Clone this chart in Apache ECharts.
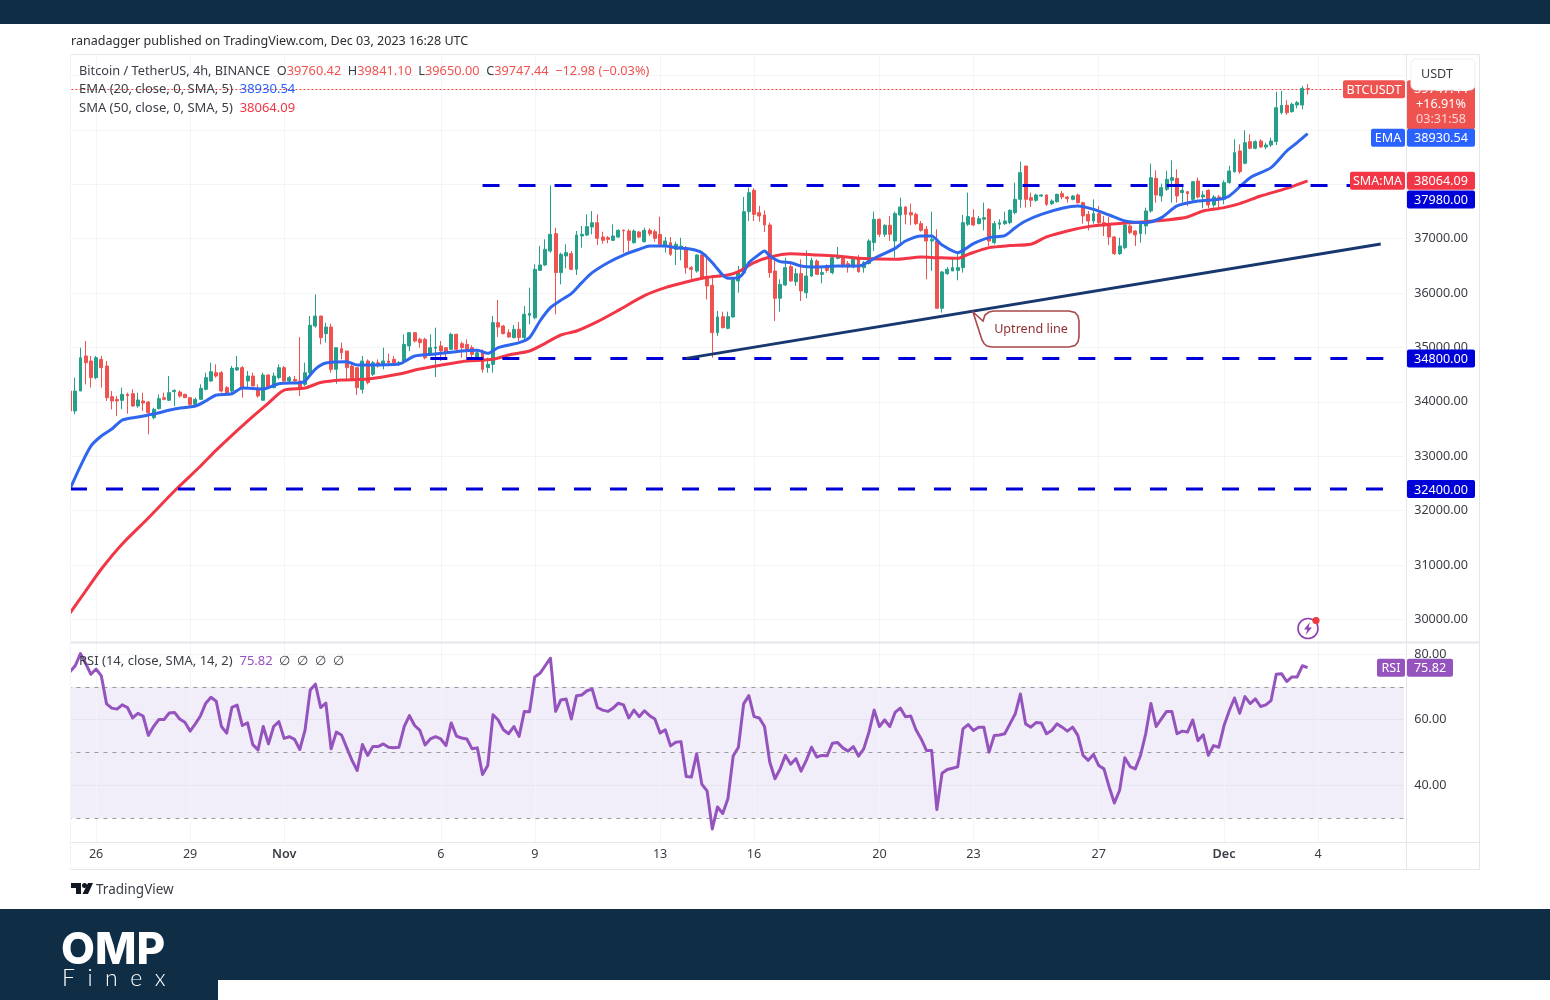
<!DOCTYPE html>
<html>
<head>
    <meta charset="utf-8">
    <title>BTCUSDT 4h</title>
    <script src="https://cdn.jsdelivr.net/npm/echarts@6/dist/echarts.min.js"></script>
    <style>
        html, body { margin: 0; padding: 0; background: #fff; overflow: hidden; }
        #main { width: 1550px; height: 1000px; }
    </style>
</head>
<body>
    <div id="main"></div>
    <script>
        // 4h candles, bar 0 is the one cut by the left edge
        var opens = [
            34200,33833,34200,34844,34752,34446,34782,34660,34096,34047,
            34028,34139,34151,33925,34017,33998,33710,33875,34078,34030,
            34190,34182,34139,34078,33955,34047,34231,34384,34537,34537,
            34262,34200,34587,34629,34384,34476,34250,34030,34495,34262,
            34446,34629,34384,34415,34384,34323,34537,35395,35579,35254,
            35377,34599,34979,34936,34660,34629,34231,34752,34507,34721,
            34690,34752,34782,34690,34752,35028,35273,35150,35150,34874,
            34986,35028,34997,34967,35242,35070,35058,34997,34813,34936,
            34630,34690,35457,35395,35273,35181,35334,35181,35592,35548,
            36419,36517,36774,37093,36376,36682,36725,36437,37050,37068,
            37215,37295,37031,37019,36970,37031,37154,37142,36927,37123,
            36946,37154,37129,37080,36884,36927,36805,36823,36835,36468,
            36406,36700,36284,36143,35273,35567,35352,35561,36223,36376,
            37497,37889,37479,37436,37252,36406,35904,36149,36486,36210,
            36357,36008,36314,36590,36345,36468,36376,36639,36639,36541,
            36480,36639,36468,36542,36928,37357,37081,37246,36958,37436,
            37583,37479,37448,37277,37173,36958,36958,35721,36358,36407,
            36419,36468,37265,37387,37277,37357,37540,36928,37265,37277,
            37296,37479,37724,38337,37755,37706,37785,37804,37644,37681,
            37828,37767,37724,37804,37663,37448,37326,37461,37295,37277,
            37032,36725,36836,37234,37142,37093,37234,37510,38110,37785,
            37908,38073,38110,37847,37865,37724,38061,37767,37889,37620,
            37767,37724,38031,38233,38613,38386,38784,38662,38796,38686,
            38723,38784,39317,39452,39336,39458,39458,39760.42
        ];
        var closes = [
            33833,34200,34813,34721,34446,34813,34629,34078,34017,34017,
            34139,34115,33925,34035,33980,33802,33863,34060,34047,34170,
            34212,34109,34078,33955,34047,34250,34446,34556,34476,34200,
            34170,34617,34629,34262,34476,34292,34109,34495,34262,34476,
            34629,34384,34446,34384,34262,34537,35408,35579,35181,35377,
            34599,34997,34905,34629,34415,34262,34752,34354,34721,34690,
            34752,34721,34721,34721,35058,35273,35119,35089,34813,34997,
            35009,34936,34905,35242,34967,34997,34966,34875,34905,34599,
            34690,35457,35377,35254,35193,35334,35181,35610,35628,36437,
            36517,36805,37080,36376,36713,36743,36437,37068,37080,37221,
            37295,37007,36970,36988,37050,37154,37142,36970,37142,37031,
            37154,37092,37007,36896,36958,36713,36897,36866,36468,36437,
            36700,36284,36131,35273,35561,35365,35567,36253,36376,37497,
            37846,37448,37417,37252,36376,35904,36161,36468,36223,36357,
            36039,36314,36603,36345,36376,36418,36651,36663,36498,36480,
            36621,36394,36560,36958,37357,37081,37246,37081,37461,37583,
            37448,37436,37277,37154,36958,36989,35721,36389,36438,36468,
            36468,37295,37406,37252,37369,37387,36958,37277,37295,37326,
            37522,37724,38214,37724,37706,37804,37804,37632,37693,37816,
            37767,37736,37785,37663,37418,37326,37461,37295,37234,37032,
            36725,36866,37252,37111,37069,37265,37510,38122,37804,37939,
            38092,38122,37785,37890,37828,38049,37767,37804,37620,37767,
            37736,38031,38245,38582,38233,38766,38662,38784,38686,38723,
            38796,39409,39452,39317,39470,39501,39764,39747.44
        ];
        var lows = [
            33680,33772,34200,34323,34262,34415,34262,34017,33863,33741,
            33863,33784,33907,33894,33833,33404,33680,33863,34030,34017,
            33925,34078,34078,33925,33925,34035,34212,34372,34446,34170,
            34139,34170,34568,34078,34262,34292,34078,34030,34250,34250,
            34415,34372,34354,34354,34108,34292,34507,35365,35058,35089,
            34537,34335,34783,34384,34384,34127,34152,34323,34476,34629,
            34599,34660,34690,34660,34721,34936,35089,34997,34782,34844,
            34458,34752,34783,34967,34936,34813,34825,34825,34783,34538,
            34538,34538,35193,35242,35181,35169,35120,35150,35426,35518,
            36406,36498,36743,35610,36161,36455,36418,36333,36835,37050,
            37080,36884,36909,36915,36958,37019,36743,36743,36909,37007,
            36927,37050,36945,36866,36743,36682,36516,36602,36357,36253,
            36376,36253,35885,34813,35212,35352,35334,35548,36008,36333,
            37325,37325,37313,37123,36284,35487,35659,36131,36210,36131,
            35855,35904,36296,36333,36180,36376,36345,36621,36468,36376,
            36455,36376,36376,36529,36774,37032,37032,36958,36652,36897,
            37265,37252,37252,37130,36254,36407,35721,35641,36333,36407,
            36235,36376,37234,37234,37265,37154,36866,36897,37173,37252,
            37265,37448,37571,37571,37583,37681,37767,37602,37620,37663,
            37724,37663,37706,37644,37277,37154,37277,37265,37050,36885,
            36701,36701,36805,37081,36866,36928,37081,37479,37663,37681,
            37877,37663,37663,37663,37602,37693,37742,37559,37559,37571,
            37571,37632,38012,38214,38196,38368,38643,38643,38674,38643,
            38686,38723,39286,39274,39317,39397,39378,39650
        ];
        var highs = [
            34200,34446,34997,35119,34844,34844,34844,34752,34200,34109,
            34262,34170,34231,34170,34170,34017,33894,34139,34170,34476,
            34231,34212,34151,34090,34078,34323,34537,34721,34690,34568,
            34292,34660,34844,34660,34568,34537,34323,34537,34507,34537,
            34690,34660,34476,34476,35193,34721,35579,35977,35579,35457,
            35438,34997,35089,34936,34690,34629,34844,34782,34752,34782,
            34997,34887,34844,34752,35242,35273,35285,35181,35181,35242,
            35365,35119,35009,35273,35254,35107,35150,35040,34936,34966,
            34813,35579,35873,35414,35334,35414,35469,35763,36100,36529,
            36866,36988,37981,37203,36743,36897,36774,37142,37233,37448,
            37509,37448,37129,37050,37264,37172,37172,37172,37172,37142,
            37203,37190,37172,37405,37031,37031,36945,37019,36866,36498,
            36713,36713,36713,36314,35671,35659,35659,36284,36498,37767,
            37938,37926,37601,37521,37295,36682,36253,36651,36529,36455,
            36621,36786,36651,36621,36498,36529,36682,36847,36663,36590,
            36651,36700,36591,36989,37498,37375,37265,37418,37498,37755,
            37602,37644,37479,37326,37234,37498,37173,36407,36481,36652,
            36744,37436,37847,37541,37418,37663,37559,37326,37357,37498,
            37541,38030,38417,38337,37847,37828,37816,37816,37724,37828,
            37877,37785,37804,37828,37681,37510,37724,37602,37418,37400,
            37050,37020,37277,37265,37154,37295,37571,38380,38257,38012,
            38245,38441,38276,37969,37877,38061,38122,37877,37908,37804,
            37804,38073,38337,38827,38735,38992,38919,38809,38827,38766,
            38858,39703,39715,39544,39501,39532,39807,39841.1
        ];

        // moving averages, read at the bars where the curve bends
        var emaBars = [0,2,4,6,8,10,13,16,20,24,26,28,31,33,37,40,44,45,47,49,53,55,57,63,66,70,75,78,80,82,86,88,90,92,94,96,98,100,103,106,109,111,114,116,119,121,123,125,126,128,129,130,132,133,134,136,138,140,143,147,151,154,158,160,163,165,167,170,173,176,179,181,183,186,190,193,196,199,202,206,209,212,216,220,222,226,230,233,235,237];
        var emaValues = [32400,32821,33189,33373,33501,33667,33722,33777,33869,33924,34016,34126,34150,34255,34237,34334,34352,34384,34604,34714,34738,34678,34678,34696,34843,34880,34936,34948,34893,34997,35089,35181,35487,35732,35867,35990,36192,36376,36559,36700,36805,36866,36866,36835,36805,36743,36559,36333,36272,36284,36376,36559,36713,36774,36682,36578,36559,36498,36480,36498,36498,36640,36823,36958,37050,37050,36885,36744,36909,37020,37056,37203,37326,37448,37559,37602,37540,37436,37326,37295,37387,37602,37693,37724,37785,38122,38306,38613,38766,38930.54];
        var smaBars = [0,3,6,10,15,20,25,28,34,38,41,45,48,52,57,63,67,75,81,84,88,91,94,97,101,105,110,114,118,122,126,128,131,134,138,143,147,151,158,163,166,170,172,176,180,184,187,191,195,199,203,206,210,214,217,221,224,228,233,237];
        var smaValues = [30119,30524,30928,31388,31866,32362,32821,33115,33648,33979,34218,34255,34356,34402,34420,34512,34604,34740,34783,34862,34936,35077,35230,35303,35475,35683,35953,36100,36204,36290,36333,36394,36559,36664,36725,36700,36682,36639,36621,36664,36652,36640,36713,36836,36873,36897,37032,37142,37222,37265,37295,37314,37344,37399,37510,37571,37644,37785,37926,38064.09];

        var rsiValues = [
            74.6,76.4,80.1,77.1,73.8,75.4,73.3,64.8,63.5,63.2,64.5,63.7,60.5,61.9,61.1,55.2,57.9,60,60,62,
            62.2,60.2,59.2,56.5,58.7,61.2,65,66.8,65.6,57.9,55.9,63.7,64.4,58.2,59,52.4,50.8,57.9,52.6,57.9,
            59.4,54.3,54.8,54,50.9,56.7,69,70.8,63.7,65,51.1,56.2,55.3,51.4,47.6,44.5,52.4,49.1,51.8,51.8,
            52.6,51.6,51.4,51.6,57.9,61.2,58.2,56.7,52.3,54.1,54.8,54.1,52.1,59,55,54.4,54.1,51.1,51.4,43.3,
            46,61.5,59.9,56.9,55.7,57.9,54.9,62.5,62.4,73,74.1,76.4,78.7,62.5,66,66.3,60.2,67.3,67.5,68.8,
            69.3,63.7,62.9,62.5,63.5,65,64.5,60.5,62.9,60.9,62.7,61.2,60.2,55.9,56.9,52,53.1,53.3,42.7,42.5,
            49.6,40.3,38.3,26.7,33.4,31.4,36,48.9,51.6,64.8,67.3,60.9,60.5,57.9,47.1,42,45,49.1,46.4,48.1,
            44.3,47.6,51.6,48.6,49.1,49,52.8,53,51.4,50.4,51.8,48.9,51.1,56.2,62.9,57.9,59.9,57.9,62.2,63.5,
            60.9,61.1,56.9,54.1,50.6,50.6,32.6,43.7,44.8,45.2,45.6,57.2,58.5,56.7,57.7,57.7,50.1,55.2,55.3,55.7,
            58.7,61.7,67.8,58.7,57.7,59.1,59,55.7,56.7,58.7,57.7,56.5,57.7,55.2,49.1,47.6,49.4,46,45,39.5,
            34.6,38.5,48.4,45.7,45,49.1,55.7,64.9,57.9,60.2,62.5,62.5,55.7,56.5,56.2,59.9,53.6,55.4,49.1,52.1,
            51.6,58.2,62.7,66.6,61.9,67,64.9,66.3,64,64.5,65.8,73.8,74,71.6,73,73,76.4,75.82
        ];

        // time axis labels
        var tickBars = [5,23,41,71,89,113,131,155,173,197,221,239];
        var tickLabels = ['26','29','Nov','6','9','13','16','20','23','27','Dec','4'];
        var barCount = 256;

        var priceTicks = [30000,31000,32000,33000,34000,35000,36000,37000,38000,39000,40000];
        var rsiTicks = [40,60,80];
        var rsiLevels = [70,50,30];

        // levels and trend line drawn by the author
        var levelValues = [37980,34800,32400];
        var levelStartBars = [79,69,0];
        var trendBars = [118,251];
        var trendValues = [34800,36903];

        // tags on the price scale
        var tagValues = [39747.44,38930.54,38064.09,37980,34800,32400];
        var tagNames = ['BTCUSDT','EMA','SMA:MA','','',''];

        var GREEN = '#26a08a', RED = '#ef5350', EMA_BLUE = '#2f66ee', SMA_RED = '#f23645';
        var LEVEL_BLUE = '#0000d8', TREND_NAVY = '#17386f', PURPLE = '#9453bd', NAVY = '#0f2d44';
        var GRID_LINE = '#f3f4f7', EDGE_LINE = '#e4e6ec', TEXT = '#3a3d45';
        var FONT = '"Noto Sans", sans-serif';
        var LABEL_FONT = '12.6px ' + FONT;
        var LEGEND_FONT = '13px ' + FONT;
        var tagColors = [RED, '#2962ff', SMA_RED, LEVEL_BLUE, LEVEL_BLUE, LEVEL_BLUE];
        var tagNudges = [0, 4, 0, 14, 0, 0];  // tags pushed apart where they would overlap

        var PANE_RIGHT = 1406, SCALE_RIGHT = 1475;

        var candleData = opens.map(function (o, i) { return [o, closes[i], lows[i], highs[i]]; });
        var categories = [];
        for (var b = 0; b < barCount; b++) categories.push(String(b));

        function pairs(xs, ys) {
            return xs.map(function (x, i) { return [x, ys[i]]; });
        }

        function tagLabel(x, y, w, text, color) {
            return [
                { type: 'rect', shape: { x: x, y: y - 9, width: w, height: 18, r: 2 }, style: { fill: color } },
                { type: 'text', style: { x: x + w / 2, y: y + 1, text: text, fill: '#fff', font: LABEL_FONT, align: 'center', verticalAlign: 'middle' } }
            ];
        }

        function renderPriceTag(params, api) {
            var i = params.dataIndex;
            var value = api.value(1);
            var y = api.coord([0, value])[1] + tagNudges[i];
            var kids = [];
            if (i === 0) {
                kids.push({ type: 'rect', shape: { x: PANE_RIGHT + 1, y: y - 9, width: SCALE_RIGHT - PANE_RIGHT - 1, height: 49, r: 2 }, style: { fill: tagColors[i] } });
                kids.push({ type: 'text', style: { x: 1441, y: y, text: value.toFixed(2), fill: '#fff', font: LABEL_FONT, align: 'center', verticalAlign: 'middle' } });
                kids.push({ type: 'text', style: { x: 1441, y: y + 15.5, text: '+16.91%', fill: '#fff', font: LABEL_FONT, align: 'center', verticalAlign: 'middle' } });
                kids.push({ type: 'text', style: { x: 1441, y: y + 30.5, text: '03:31:58', fill: '#fbd5d4', font: LABEL_FONT, align: 'center', verticalAlign: 'middle' } });
            } else {
                kids = tagLabel(PANE_RIGHT + 1, y, SCALE_RIGHT - PANE_RIGHT - 1, value.toFixed(2), tagColors[i]);
            }
            var name = tagNames[i];
            if (name) {
                var w = name.length * 7 + 13;
                kids = kids.concat(tagLabel(PANE_RIGHT - 1 - w, y, w, name, tagColors[i]));
            }
            return { type: 'group', children: kids };
        }

        function renderRsiTag(params, api) {
            var y = api.coord([0, api.value(1)])[1];
            var kids = tagLabel(PANE_RIGHT + 1, y, 46, api.value(1).toFixed(2), PURPLE);
            return { type: 'group', children: kids.concat(tagLabel(PANE_RIGHT - 29, y, 28, 'RSI', PURPLE)) };
        }

        function verticalLines(xAxisIndex, yAxisIndex) {
            return {
                type: 'line', xAxisIndex: xAxisIndex, yAxisIndex: yAxisIndex, data: [], silent: true, z: 1,
                markLine: {
                    z: 1, silent: true, symbol: 'none', animation: false, label: { show: false },
                    lineStyle: { color: GRID_LINE, width: 1, type: 'solid' },
                    data: tickBars.map(function (t) { return { xAxis: t }; })
                }
            };
        }

        var levelSeries = levelValues.map(function (v, i) {
            return {
                type: 'line', xAxisIndex: 0, yAxisIndex: 0, z: 6, silent: true, symbol: 'none', animation: false,
                data: [[levelStartBars[i], v], [barCount - 1, v]],
                lineStyle: { color: LEVEL_BLUE, width: 3, type: [17, 19] }
            };
        });

        var myChart = echarts.init(document.getElementById('main'));

        myChart.setOption({
            animation: false,
            backgroundColor: '#fff',
            textStyle: { fontFamily: FONT },
            grid: [
                { left: 67.4, top: 55, width: 1336.8, height: 588 },
                { left: 67.4, top: 644, width: 1336.8, height: 198 }
            ],
            xAxis: [
                { type: 'category', gridIndex: 0, data: categories, show: false },
                {
                    type: 'category', gridIndex: 1, data: categories,
                    axisLine: { show: false }, axisTick: { show: false }, splitLine: { show: false },
                    axisLabel: {
                        margin: 6, color: TEXT, fontSize: 12.6, fontFamily: FONT,
                        interval: function (i) { return tickBars.indexOf(i) >= 0; },
                        formatter: function (value, i) {
                            var label = tickLabels[tickBars.indexOf(i)];
                            return label === 'Nov' || label === 'Dec' ? '{m|' + label + '}' : label;
                        },
                        rich: { m: { fontWeight: 600, color: TEXT, fontSize: 12.6, fontFamily: FONT } }
                    }
                }
            ],
            yAxis: [
                {
                    type: 'value', gridIndex: 0, position: 'right', offset: 2, min: 29568, max: 40377,
                    axisLine: { show: true, lineStyle: { color: EDGE_LINE } },
                    axisTick: { show: false, customValues: priceTicks },
                    splitLine: { lineStyle: { color: GRID_LINE } },
                    axisLabel: {
                        customValues: priceTicks, margin: 8, color: TEXT, fontSize: 12.6, fontFamily: FONT,
                        formatter: function (v) { return v.toFixed(2); }
                    }
                },
                {
                    type: 'value', gridIndex: 1, position: 'right', offset: 2, min: 22.73, max: 83.03,
                    axisLine: { show: true, lineStyle: { color: EDGE_LINE } },
                    axisTick: { show: false, customValues: rsiTicks },
                    splitLine: { lineStyle: { color: GRID_LINE } },
                    axisLabel: {
                        customValues: rsiTicks, margin: 8, color: TEXT, fontSize: 12.6, fontFamily: FONT,
                        formatter: function (v) { return v.toFixed(2); }
                    }
                }
            ],
            series: [
                verticalLines(0, 0),
                verticalLines(1, 1),
                {
                    name: 'BTCUSDT', type: 'candlestick', xAxisIndex: 0, yAxisIndex: 0, z: 3,
                    data: candleData, barWidth: 3.4,
                    itemStyle: { color: GREEN, color0: RED, borderColor: GREEN, borderColor0: RED, borderWidth: 1 },
                    markLine: {
                        z: 2, silent: true, symbol: 'none', animation: false, label: { show: false },
                        lineStyle: { color: '#e8403d', width: 1, type: [2, 2] },
                        data: [{ yAxis: tagValues[0] }]
                    }
                },
                {
                    name: 'EMA', type: 'line', xAxisIndex: 0, yAxisIndex: 0, z: 5, symbol: 'none', smooth: 0.25,
                    data: pairs(emaBars, emaValues), lineStyle: { color: EMA_BLUE, width: 3 }
                },
                {
                    name: 'SMA', type: 'line', xAxisIndex: 0, yAxisIndex: 0, z: 4, symbol: 'none', smooth: 0.25,
                    data: pairs(smaBars, smaValues), lineStyle: { color: SMA_RED, width: 3 }
                }
            ].concat(levelSeries).concat([
                {
                    name: 'Trend', type: 'line', xAxisIndex: 0, yAxisIndex: 0, z: 6, symbol: 'none',
                    data: pairs(trendBars, trendValues), lineStyle: { color: TREND_NAVY, width: 3 }
                },
                {
                    name: 'RSI', type: 'line', xAxisIndex: 1, yAxisIndex: 1, z: 5, symbol: 'none',
                    data: rsiValues, lineStyle: { color: PURPLE, width: 3, join: 'round' },
                    markArea: {
                        silent: true, animation: false, itemStyle: { color: 'rgba(126,87,194,0.1)' },
                        data: [[{ yAxis: rsiLevels[2] }, { yAxis: rsiLevels[0] }]]
                    },
                    markLine: {
                        z: 2, silent: true, symbol: 'none', animation: false, label: { show: false },
                        lineStyle: { color: '#9a9a9a', width: 1.2, type: [4, 5] },
                        data: rsiLevels.map(function (v) { return { yAxis: v }; })
                    }
                },
                {
                    type: 'custom', xAxisIndex: 0, yAxisIndex: 0, z: 20, clip: false, silent: true,
                    renderItem: renderPriceTag, encode: { x: 0, y: 1 },
                    data: tagValues.map(function (v) { return [0, v]; })
                },
                {
                    type: 'custom', xAxisIndex: 1, yAxisIndex: 1, z: 20, clip: false, silent: true,
                    renderItem: renderRsiTag, encode: { x: 0, y: 1 },
                    data: [[0, rsiValues[rsiValues.length - 1]]]
                }
            ]),
            graphic: { elements: [
                // left of the pane, hides the part of the first bar that is cut
                { type: 'rect', z: 50, silent: true, shape: { x: 0, y: 54, width: 70.5, height: 816 }, style: { fill: '#fff' } },
                // banner top and bottom
                { type: 'rect', z: 60, silent: true, shape: { x: 0, y: 0, width: 1550, height: 24 }, style: { fill: NAVY } },
                { type: 'rect', z: 60, silent: true, shape: { x: 0, y: 909, width: 1550, height: 91 }, style: { fill: NAVY } },
                { type: 'rect', z: 61, silent: true, shape: { x: 218, y: 980, width: 1332, height: 20 }, style: { fill: '#fff' } },
                { type: 'text', z: 61, silent: true, style: { x: 61, y: 951, text: 'OMP', fill: '#fff', font: '800 44px Inter, sans-serif', verticalAlign: 'middle' } },
                { type: 'text', z: 61, silent: true, style: { x: 62, y: 979, text: 'F  i  n  e  x', fill: '#fff', font: '300 23px Lato, sans-serif', verticalAlign: 'middle' } },
                // frame
                { type: 'rect', z: 40, silent: true, shape: { x: 70.5, y: 54.5, width: 1409, height: 815 }, style: { fill: 'none', stroke: EDGE_LINE, lineWidth: 1 } },
                { type: 'line', z: 40, silent: true, shape: { x1: 70.5, y1: 642.5, x2: 1479.5, y2: 642.5 }, style: { stroke: EDGE_LINE, lineWidth: 2 } },
                { type: 'line', z: 40, silent: true, shape: { x1: 70.5, y1: 842.5, x2: 1479.5, y2: 842.5 }, style: { stroke: EDGE_LINE, lineWidth: 1 } },
                { type: 'line', z: 40, silent: true, shape: { x1: 1406.5, y1: 842, x2: 1406.5, y2: 869 }, style: { stroke: EDGE_LINE, lineWidth: 1 } },
                // texts
                { type: 'text', z: 41, silent: true, style: { x: 71, y: 41.5, text: 'ranadagger published on TradingView.com, Dec 03, 2023 16:28 UTC', fill: '#2b2d33', font: '12.56px ' + FONT, verticalAlign: 'middle' } },
                {
                    type: 'text', z: 41, silent: true,
                    style: {
                        x: 79, y: 71.5, verticalAlign: 'middle',
                        text: '{d|Bitcoin / TetherUS, 4h, BINANCE}{d|  O}{r|39760.42}{d|  H}{r|39841.10}{d|  L}{r|39650.00}{d|  C}{r|39747.44}{r|  \u221212.98 (\u22120.03%)}',
                        rich: { d: { fill: TEXT, font: '12.75px ' + FONT }, r: { fill: RED, font: '12.75px ' + FONT } }
                    }
                },
                {
                    type: 'text', z: 41, silent: true,
                    style: {
                        x: 79, y: 89.5, verticalAlign: 'middle',
                        text: '{d|EMA (20, close, 0, SMA, 5)}{b|  38930.54}',
                        rich: { d: { fill: TEXT, font: LEGEND_FONT }, b: { fill: '#2962ff', font: LEGEND_FONT } }
                    }
                },
                {
                    type: 'text', z: 41, silent: true,
                    style: {
                        x: 79, y: 108.5, verticalAlign: 'middle',
                        text: '{d|SMA (50, close, 0, SMA, 5)}{r|  38064.09}',
                        rich: { d: { fill: TEXT, font: LEGEND_FONT }, r: { fill: SMA_RED, font: LEGEND_FONT } }
                    }
                },
                {
                    type: 'text', z: 41, silent: true,
                    style: {
                        x: 79, y: 661.5, verticalAlign: 'middle',
                        text: '{d|RSI (14, close, SMA, 14, 2)}{p|  75.82}{d|  \u2205  \u2205  \u2205  \u2205}',
                        rich: { d: { fill: TEXT, font: LEGEND_FONT }, p: { fill: PURPLE, font: LEGEND_FONT } }
                    }
                },
                // currency button
                { type: 'rect', z: 45, silent: true, shape: { x: 1411, y: 59, width: 64, height: 31, r: 5 }, style: { fill: '#fff', stroke: '#eeeff3', lineWidth: 1 } },
                { type: 'text', z: 46, silent: true, style: { x: 1421, y: 74, text: 'USDT', fill: TEXT, font: LABEL_FONT, verticalAlign: 'middle' } },
                // callout on the trend line
                {
                    type: 'polygon', z: 42, silent: true,
                    shape: { points: [[973, 312], [983, 321], [985, 315], [989, 312], [994, 311], [1069, 311], [1075, 312.5], [1078, 316], [1079, 321], [1079, 337], [1078, 342], [1075, 345.5], [1069, 347], [992, 347], [987, 346], [984, 343.5], [982, 340]] },
                    style: { fill: '#fff', stroke: '#a8494a', lineWidth: 1.6 }
                },
                { type: 'text', z: 43, silent: true, style: { x: 1031, y: 329, text: 'Uptrend line', fill: '#8f2e30', font: LABEL_FONT, align: 'center', verticalAlign: 'middle' } },
                // alert icon
                { type: 'circle', z: 42, silent: true, shape: { cx: 1308, cy: 628.5, r: 10 }, style: { fill: '#fff', stroke: '#8e3fb0', lineWidth: 1.6 } },
                { type: 'polygon', z: 43, silent: true, shape: { points: [[1310, 622], [1304, 629.5], [1307.5, 629.5], [1305.5, 635], [1312, 627.5], [1308.5, 627.5]] }, style: { fill: '#8e3fb0' } },
                { type: 'circle', z: 44, silent: true, shape: { cx: 1316, cy: 620.5, r: 3.6 }, style: { fill: '#ef3b3b' } },
                // TradingView mark
                { type: 'polygon', z: 42, silent: true, shape: { points: [[71, 883], [81, 883], [81, 894], [76, 894], [76, 888], [71, 888]] }, style: { fill: '#131722' } },
                { type: 'circle', z: 42, silent: true, shape: { cx: 84.5, cy: 885.5, r: 2.5 }, style: { fill: '#131722' } },
                { type: 'polygon', z: 42, silent: true, shape: { points: [[88, 883], [93, 883], [88, 894], [82.5, 894]] }, style: { fill: '#131722' } },
                { type: 'text', z: 42, silent: true, style: { x: 96, y: 890, text: 'TradingView', fill: '#3a3d45', font: '13.5px ' + FONT, verticalAlign: 'middle' } }
            ] }
        });
    </script>
</body>
</html>
